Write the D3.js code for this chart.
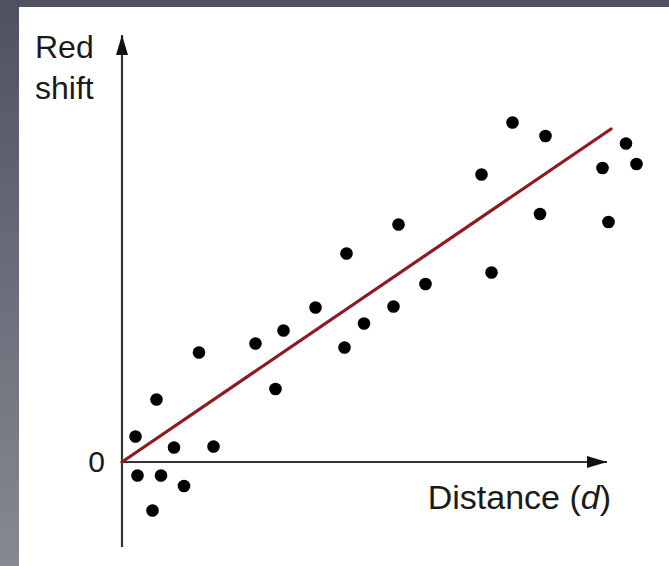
<!DOCTYPE html>
<html>
<head>
<meta charset="utf-8">
<script src="https://cdn.jsdelivr.net/npm/d3@7"></script>
<style>
  body { margin: 0; padding: 0; }
  text { font-family: "Liberation Sans", Arial, sans-serif; fill: #1a1a1a; }
</style>
</head>
<body>
<div id="canvas"></div>
<script>
// data (distance, red shift), arbitrary units
var distance = [2.7, 6.9, 15.4, 26.7, 32.3, 30.7, 10.4, 18.3, 3.1, 7.8, 12.4, 6.1,
                55.3, 44.9, 60.7, 38.7, 54.3, 48.4, 44.5,
                78.1, 84.7, 71.9, 83.6, 73.9, 100.8, 96.1, 102.9, 97.3];
var redshift = [5.1, 12.5, 21.9, 23.7, 26.3, 14.6, 2.9, 3.1, -2.7, -2.7, -4.8, -9.7,
                47.5, 41.7, 35.6, 30.9, 31.1, 27.7, 22.9,
                67.9, 65.2, 57.5, 49.6, 37.9, 63.7, 58.8, 59.6, 48];
// best fit line end points
var fitD = [0, 97.8];
var fitZ = [0, 66.6];
var yTicks = [0];

var W = 669, H = 566;

var svg = d3.select('#canvas')
    .append('svg')
    .attr('width', W)
    .attr('height', H);

// grey frame behind the white panel
var defs = svg.append('defs');
var grad = defs.append('linearGradient')
    .attr('id', 'bg')
    .attr('x1', 0).attr('y1', 0).attr('x2', 0).attr('y2', 1);
grad.append('stop').attr('offset', 0).attr('stop-color', '#4e5260');
grad.append('stop').attr('offset', 1).attr('stop-color', '#868993');

svg.append('rect').attr('width', W).attr('height', H).attr('fill', 'url(#bg)');
svg.append('rect').attr('x', 19).attr('y', 7).attr('width', W - 19).attr('height', H - 7).attr('fill', '#fff');

// arrow heads
defs.append('marker')
    .attr('id', 'arrow')
    .attr('viewBox', '0 0 20 12')
    .attr('refX', 20).attr('refY', 6)
    .attr('markerWidth', 20).attr('markerHeight', 12)
    .attr('markerUnits', 'userSpaceOnUse')
    .attr('orient', 'auto')
    .append('path')
    .attr('d', 'M0,0 L20,6 L0,12 Z')
    .attr('fill', '#111');

// scales: 5 px per unit on both axes
var scaleX = d3.scaleLinear().domain([0, 100]).range([122, 622]);
var scaleY = d3.scaleLinear().domain([0, 80]).range([462, 62]);

var plot = svg.append('g');

// axes with arrows
plot.append('line')
    .attr('x1', scaleX(0)).attr('y1', scaleY(-17))
    .attr('x2', scaleX(0)).attr('y2', scaleY(85.4))
    .attr('stroke', '#333').attr('stroke-width', 2.2)
    .attr('marker-end', 'url(#arrow)');

plot.append('line')
    .attr('x1', scaleX(0)).attr('y1', scaleY(0))
    .attr('x2', scaleX(97)).attr('y2', scaleY(0))
    .attr('stroke', '#333').attr('stroke-width', 2.2)
    .attr('marker-end', 'url(#arrow)');

// the "0" tick label
var axisY = d3.axisLeft(scaleY)
    .tickValues(yTicks)
    .tickSize(0)
    .tickPadding(17)
    .tickFormat(d3.format('d'));

var axisNode = plot.append('g')
    .attr('transform', 'translate(' + scaleX(0) + ',0)')
    .call(axisY);
axisNode.select('.domain').remove();
axisNode.selectAll('text')
    .attr('font-family', '"Liberation Sans", Arial, sans-serif')
    .attr('font-size', 30)
    .attr('fill', '#1a1a1a');

// fit line
plot.append('line')
    .attr('x1', scaleX(fitD[0])).attr('y1', scaleY(fitZ[0]))
    .attr('x2', scaleX(fitD[1])).attr('y2', scaleY(fitZ[1]))
    .attr('stroke', '#8e1b24')
    .attr('stroke-width', 3.2)
    .attr('stroke-linecap', 'round');

// dots
plot.selectAll('circle')
    .data(distance)
    .enter()
    .append('circle')
    .attr('cx', function(d) { return scaleX(d); })
    .attr('cy', function(d, i) { return scaleY(redshift[i]); })
    .attr('r', 6.3)
    .attr('fill', '#000');

// labels
svg.append('text').attr('x', 35).attr('y', 58).attr('font-size', 32).text('Red');
svg.append('text').attr('x', 35).attr('y', 99).attr('font-size', 32).text('shift');

var xl = svg.append('text')
    .attr('x', 611).attr('y', 509)
    .attr('text-anchor', 'end')
    .attr('font-size', 34);
xl.append('tspan').text('Distance (');
xl.append('tspan').attr('font-style', 'italic').text('d');
xl.append('tspan').text(')');
</script>
</body>
</html>
